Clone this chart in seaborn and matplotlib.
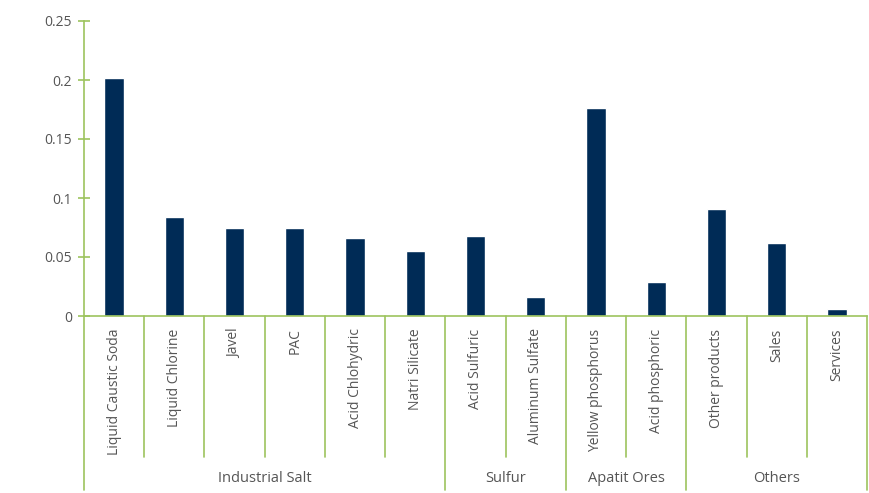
import matplotlib
matplotlib.use("Agg")
import matplotlib.pyplot as plt
import matplotlib.transforms as mtransforms
import seaborn as sns
import pandas as pd

categories = ["Liquid Caustic Soda", "Liquid Chlorine", "Javel", "PAC", "Acid Chlohydric",
              "Natri Silicate", "Acid Sulfuric", "Aluminum Sulfate", "Yellow phosphorus",
              "Acid phosphoric", "Other products", "Sales", "Services"]
values = [0.2015, 0.0835, 0.075, 0.0743, 0.0665, 0.0555, 0.0675, 0.0157, 0.1765, 0.0285, 0.0905, 0.0615, 0.0062]
groups = ["Industrial Salt", "Sulfur", "Apatit Ores", "Others"]
group_sizes = [6, 2, 2, 3]
yticks = [0, 0.05, 0.1, 0.15, 0.2, 0.25]
ytick_labels = ["0", "0.05", "0.1", "0.15", "0.2", "0.25"]

sns.set_style("white")
plt.rcParams['font.family'] = ['Open Sans', 'DejaVu Sans']

GREEN = "#9DC35E"
NAVY = "#002B56"
GREY = "#555555"

fig = plt.figure(figsize=(8.69, 4.93), dpi=100)
ax = fig.add_axes([84/869, 1-316/493, (867-84)/869, (316-21)/493])

df = pd.DataFrame({"cat": categories, "val": values})
sns.barplot(data=df, x="cat", y="val", color=NAVY, width=0.32, ax=ax, saturation=1)

ax.set_xlim(-0.5, len(categories) - 0.5)
ax.set_ylim(0, 0.25)
ax.set_yticks(yticks)
ax.set_yticklabels(ytick_labels)
ax.set_xlabel("")
ax.set_ylabel("")

for s in ["top", "right"]:
    ax.spines[s].set_visible(False)
for s in ["left", "bottom"]:
    ax.spines[s].set_color(GREEN)
    ax.spines[s].set_linewidth(1.2)

ax.tick_params(axis="y", direction="inout", length=9, width=1.2, color=GREEN,
               labelcolor=GREY, labelsize=10, pad=4, left=True)
ax.tick_params(axis="x", length=0, pad=9, labelcolor=GREY, labelsize=10)
plt.setp(ax.get_xticklabels(), rotation=90, va="top", ha="center")

trans = mtransforms.blended_transform_factory(ax.transData, ax.transAxes)
short = -(457-316)/295
full = -(490-316)/295

pos = -0.5
group_edges = [pos]
for g in group_sizes:
    pos += g
    group_edges.append(pos)
for i in range(len(categories) + 1):
    xb = i - 0.5
    yb = full if xb in group_edges else short
    ax.plot([xb, xb], [0, yb], color=GREEN, lw=1.2, transform=trans, clip_on=False)

for g, a, b in zip(groups, group_edges[:-1], group_edges[1:]):
    ax.text((a + b) / 2, -(478-316)/295, g, transform=trans, ha="center", va="center",
            color=GREY, fontsize=10.5)

fig.savefig("out.png", dpi=100)
